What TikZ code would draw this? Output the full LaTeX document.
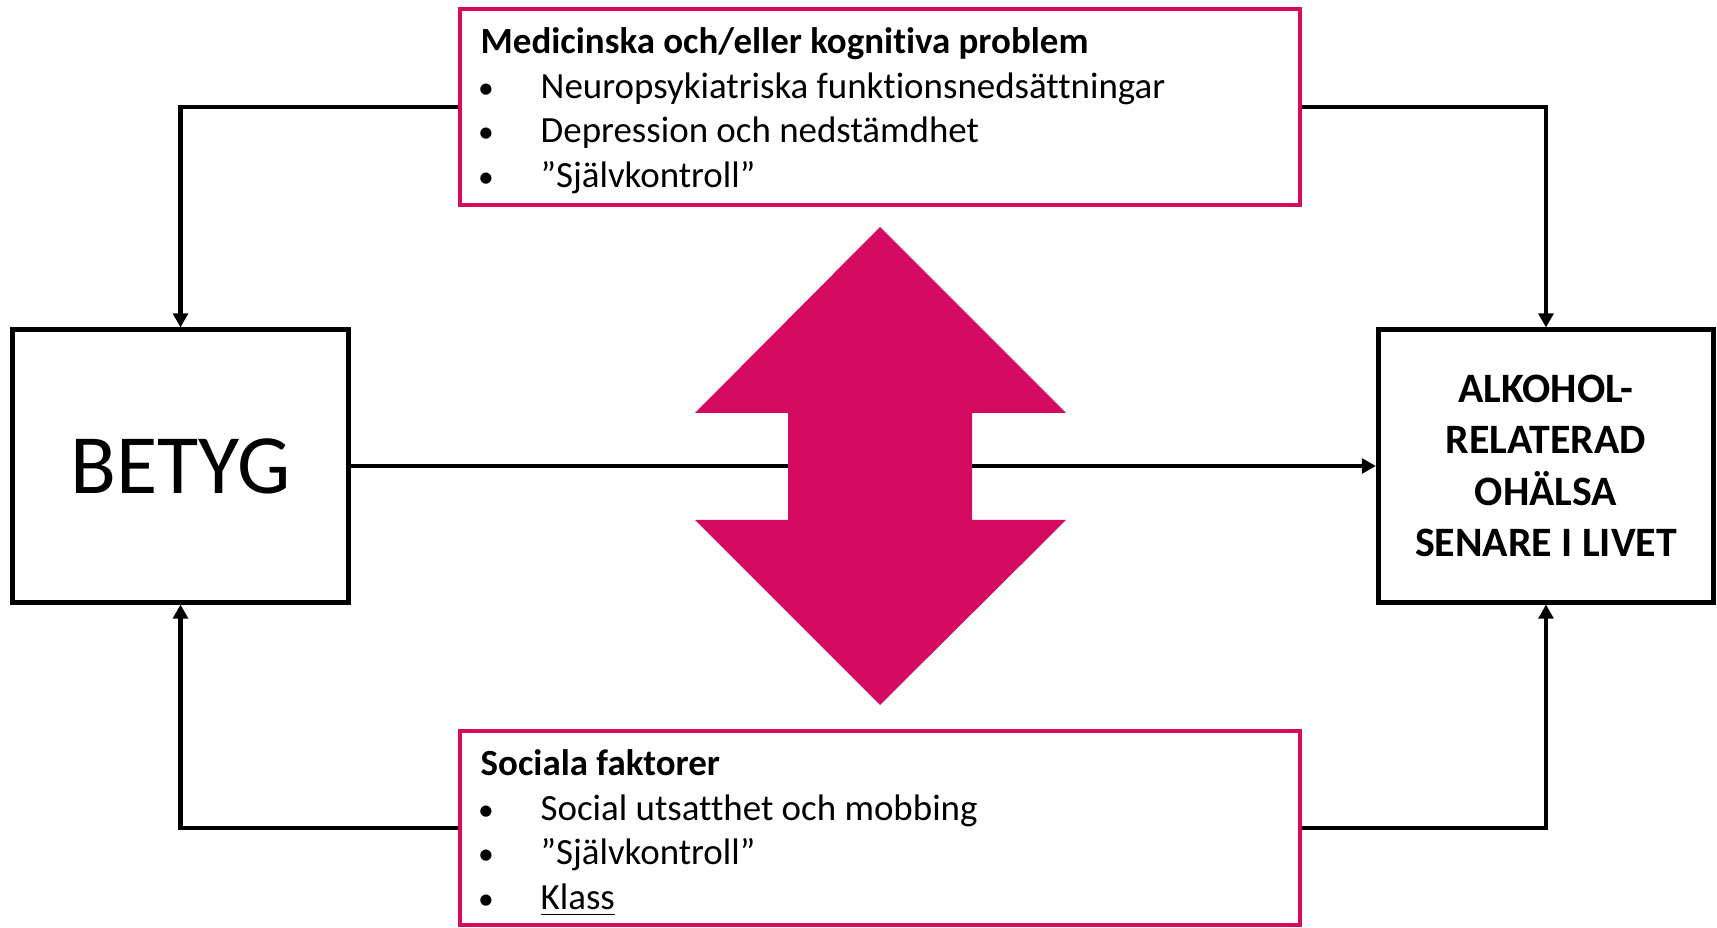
\documentclass[tikz,border=0pt]{standalone}
\usepackage{fontspec}
\setmainfont{Carlito}[Ligatures={NoCommon}]
\usetikzlibrary{arrows.meta}
\definecolor{slidepink}{RGB}{213,11,98}
\begin{document}
\begin{tikzpicture}[x=0.01cm,y=-0.01cm,
        blackbox/.style={draw=black,line width=1.4pt,fill=white,minimum width=3.35cm,minimum height=2.72cm,inner sep=0pt},
        pinkbox/.style={draw=slidepink,line width=1.2pt,fill=white,minimum width=8.4cm,inner sep=0pt},
        conn/.style={line width=1.3pt,-{Triangle[length=4pt,width=4.2pt]}},
        headtext/.style={anchor=base west,inner sep=0pt,font=\fontsize{10.5}{12}\selectfont\bfseries},
        dottext/.style={anchor=base,inner sep=0pt,font=\fontsize{9}{12}\selectfont},
        itemtext/.style={anchor=base west,inner sep=0pt,font=\fontsize{10.5}{12}\selectfont}]
    \useasboundingbox (0,0) rectangle (1717,928);
    \node[blackbox,font=\fontsize{24}{28}\selectfont] (betyg) at (180.5,466) {BETYG};
    \node[blackbox,align=center,font=\fontsize{11.9}{14.6}\selectfont\bfseries] (halsa) at (1546,466)
        {ALKOHOL-\\RELATERAD\\OHÄLSA\\SENARE I LIVET};
    \node[pinkbox,minimum height=1.96cm] (med) at (880,107) {};
    \node[pinkbox,minimum height=1.94cm] (soc) at (880,828) {};
    % connectors
    \draw[conn] (med.west) -| (betyg.north);
    \draw[conn] (med.east) -| (halsa.north);
    \draw[conn] (soc.west) -| (betyg.south);
    \draw[conn] (soc.east) -| (halsa.south);
    \draw[conn] (betyg.east) -- (halsa.west);
    % double arrow in the middle
    \fill[slidepink] (880,227) -- (1066,413) -- (972,413) -- (972,520) -- (1066,520) -- (880,705)
        -- (695,520) -- (788,520) -- (788,413) -- (695,413) -- cycle;
    % box texts
    \node[headtext] (medhead) at (480,54) {Medicinska och/eller kognitiva problem};
    \foreach \txt [count=\i] in {Neuropsykiatriska funktionsnedsättningar,Depression och nedstämdhet,”Självkontroll”}{
        \node[dottext] (meddot\i) at (486,{54+44.5*\i}) {\textbullet};
        \node[itemtext] (meditem\i) at (540,{54+44.5*\i}) {\txt};
    }
    \node[headtext] (sochead) at (480,776) {Sociala faktorer};
    \foreach \txt [count=\i] in {Social utsatthet och mobbing,”Självkontroll”,\underline{Klass}}{
        \node[dottext] (socdot\i) at (486,{776+44.5*\i}) {\textbullet};
        \node[itemtext] (socitem\i) at (540,{776+44.5*\i}) {\txt};
    }
\end{tikzpicture}
\end{document}
